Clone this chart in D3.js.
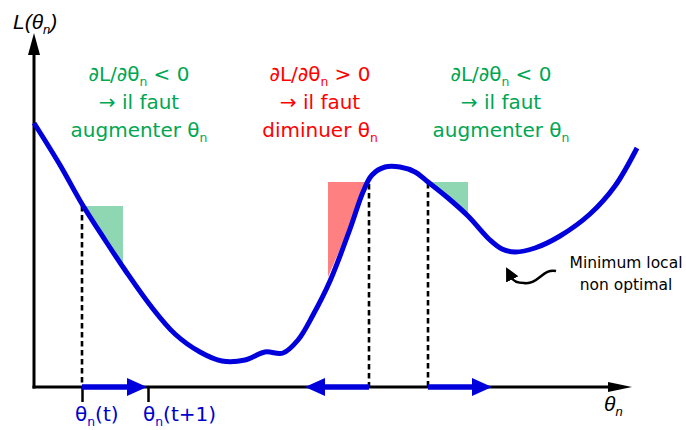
<!DOCTYPE html>
<html>
<head>
<meta charset="utf-8">
<script src="https://cdn.jsdelivr.net/npm/d3@7"></script>
<style>
  body { margin: 0; background: #fff; }
  svg { display: block; }
</style>
</head>
<body>
<div id="chart"></div>
<script>
// loss curve L(theta), in axis units
const curveTheta = [0, 2.6, 4.8, 7.1, 9.1, 11.6, 14.1, 16.6, 18.8, 21.1, 23.1, 24.9, 26.4, 27.9, 29.6, 31.6, 32.9, 33.8, 35.1, 36.6, 38.1, 39.4, 41.4, 43.4, 45.6, 46.8, 48.1, 50.1, 52.6, 55.6, 58.1, 60.3]
const curveLoss  = [26.4, 22.2, 18.3, 14.7, 11.7, 8.2, 5.3, 3.5, 2.6, 2.7, 3.5, 3.4, 4.7, 7.2, 10.6, 15.8, 19.5, 21.2, 22.0, 22.0, 21.5, 20.5, 18.9, 17.1, 14.7, 13.8, 13.5, 13.9, 15.1, 17.3, 20.1, 23.9]

// slope triangles: vertical side at triSide, other corner at triTip
const triSide   = [8.9, 29.4, 43.4]
const triTip    = [4.8, 33.5, 39.4]
const triTop    = [18.1, 20.5, 20.5]
const triBottom = [11.9, 11.0, 17.2]
const triKind   = ['neg', 'pos', 'neg']

// dashed projections and update steps
const tangentTheta = [4.8, 33.5, 39.4]
const tangentLoss  = [18.1, 20.3, 20.4]
const stepFrom = [4.8, 33.5, 39.4]
const stepTo   = [11.3, 27.1, 45.8]

const tickTheta = [4.8, 11.4]
const tickLabels = ['θ_n(t)', 'θ_n(t+1)']

const blocks = [
  { theta: 10.5, kind: 'neg', lines: ['∂L/∂θ_n < 0', '→ il faut', 'augmenter θ_n'] },
  { theta: 28.6, kind: 'pos', lines: ['∂L/∂θ_n > 0', '→ il faut', 'diminuer θ_n'] },
  { theta: 46.7, kind: 'neg', lines: ['∂L/∂θ_n < 0', '→ il faut', 'augmenter θ_n'] }
]
const noteLines = ['Minimum local', 'non optimal']
// curved pointer: start, c1, c2, mid, c1, c2, end
const notePts = [[52.2, 11.6], [50.9, 11.9], [50.4, 10.2], [49.0, 10.4], [48.3, 10.4], [47.9, 10.6], [47.7, 11.0]]

const W = 686, H = 430
const x = d3.scaleLinear().domain([0, 60]).range([34, 634])
const y = d3.scaleLinear().domain([0, 35]).range([387, 37])

const textColor = { neg: '#00a651', pos: '#ff0000' }
const fillColor = { neg: '#8fd6b2', pos: '#ff8080' }
const blue = '#0000dd'
const font = '"DejaVu Sans", Verdana, sans-serif'

const svg = d3.select('#chart').append('svg')
  .attr('width', W).attr('height', H)

// triangles
svg.append('g').selectAll('path')
  .data(triSide)
  .enter().append('path')
  .attr('d', (d, i) => 'M' + x(triTip[i]) + ',' + y(triTop[i]) +
    'L' + x(d) + ',' + y(triTop[i]) + 'L' + x(d) + ',' + y(triBottom[i]) + 'Z')
  .attr('fill', (d, i) => fillColor[triKind[i]])

// dashed lines
svg.append('g').selectAll('line')
  .data(tangentTheta)
  .enter().append('line')
  .attr('x1', d => x(d)).attr('x2', d => x(d))
  .attr('y1', (d, i) => y(tangentLoss[i])).attr('y2', y(0))
  .attr('stroke', '#000').attr('stroke-width', 2.6)
  .attr('stroke-dasharray', '5.5,3.5')

// axes
const axisG = svg.append('g')
axisG.append('line')
  .attr('x1', x(0)).attr('x2', x(0)).attr('y1', y(0) + 1.5).attr('y2', 54)
  .attr('stroke', '#000').attr('stroke-width', 3)
axisG.append('path')
  .attr('d', 'M' + (x(0) - 6) + ',55L' + x(0) + ',33L' + (x(0) + 6) + ',55Z')
axisG.append('line')
  .attr('x1', x(0) - 1.5).attr('x2', 610).attr('y1', y(0)).attr('y2', y(0))
  .attr('stroke', '#000').attr('stroke-width', 3)
axisG.append('path')
  .attr('d', 'M608,' + (y(0) - 5) + 'L632,' + y(0) + 'L608,' + (y(0) + 5) + 'Z')

// tick marks through d3 axis
const ticks = svg.append('g')
  .attr('transform', 'translate(0,' + y(0) + ')')
  .call(d3.axisBottom(x).tickValues(tickTheta).tickFormat('').tickSize(15))
ticks.select('.domain').remove()
ticks.selectAll('.tick line').attr('stroke', '#000').attr('stroke-width', 2.5)

// curve
const line = d3.line()
  .x(d => x(d[0])).y(d => y(d[1]))
  .curve(d3.curveCatmullRom.alpha(0.5))
svg.append('path')
  .datum(curveTheta.map((t, i) => [t, curveLoss[i]]))
  .attr('d', line)
  .attr('fill', 'none')
  .attr('stroke', blue)
  .attr('stroke-width', 5)
  .attr('stroke-linejoin', 'round')

// update step arrows
const steps = svg.append('g')
stepFrom.forEach((f, i) => {
  const x0 = x(f), x1 = x(stepTo[i]), dir = x1 > x0 ? 1 : -1
  const yb = y(0)
  const base = x1 - dir * 20
  steps.append('line')
    .attr('x1', x0).attr('x2', base).attr('y1', yb).attr('y2', yb)
    .attr('stroke', blue).attr('stroke-width', 5.5)
  steps.append('path')
    .attr('d', 'M' + base + ',' + (yb - 9) + 'L' + x1 + ',' + yb + 'L' + base + ',' + (yb + 9) + 'Z')
    .attr('fill', blue)
})

// helper for text with a subscript n
function subText(g, px, py, str, size, color, anchor, italic) {
  const t = g.append('text')
    .attr('x', px).attr('y', py)
    .attr('text-anchor', anchor)
    .attr('font-family', italic ? '"Liberation Sans", Arial, sans-serif' : font)
    .attr('font-style', italic ? 'italic' : 'normal')
    .attr('font-size', size)
    .attr('fill', color)
  const parts = str.split('_n')
  parts.forEach((p, i) => {
    if (p) t.append('tspan').text(p).attr('dy', i > 0 ? -size * 0.25 : null)
    if (i < parts.length - 1) {
      t.append('tspan').text('n').attr('font-size', size * 0.62).attr('dy', size * 0.25)
    }
  })
  return t
}

// text blocks
const tg = svg.append('g')
blocks.forEach(b => {
  b.lines.forEach((l, j) => {
    subText(tg, x(b.theta), 81 + j * 28, l, 20, textColor[b.kind], 'middle', false)
  })
})

// axis labels
subText(tg, 13, 29, 'L(θ_n)', 21, '#000', 'start', true)
subText(tg, 604, 411, 'θ_n', 21, '#000', 'start', true)

// tick labels
subText(tg, 75, 421, tickLabels[0], 20, '#0000cc', 'start', false)
subText(tg, 143, 421, tickLabels[1], 20, '#0000cc', 'start', false)

// note
noteLines.forEach((l, j) => {
  tg.append('text')
    .attr('x', 626).attr('y', 268 + j * 22)
    .attr('text-anchor', 'middle')
    .attr('font-family', font).attr('font-size', 15.5)
    .attr('fill', '#000')
    .text(l)
})

svg.append('defs').append('marker')
  .attr('id', 'head').attr('viewBox', '0 0 10 10')
  .attr('refX', 2).attr('refY', 5)
  .attr('markerWidth', 5.5).attr('markerHeight', 5.5)
  .attr('markerUnits', 'strokeWidth')
  .attr('orient', 'auto')
  .append('path').attr('d', 'M0,0L10,5L0,10Z').attr('fill', '#000')

const p = notePts.map(d => [x(d[0]), y(d[1])])
svg.append('path')
  .attr('d', 'M' + p[0] + 'C' + p[1] + ' ' + p[2] + ' ' + p[3] + 'C' + p[4] + ' ' + p[5] + ' ' + p[6])
  .attr('fill', 'none').attr('stroke', '#000').attr('stroke-width', 2.5)
  .attr('marker-end', 'url(#head)')
</script>
</body>
</html>
